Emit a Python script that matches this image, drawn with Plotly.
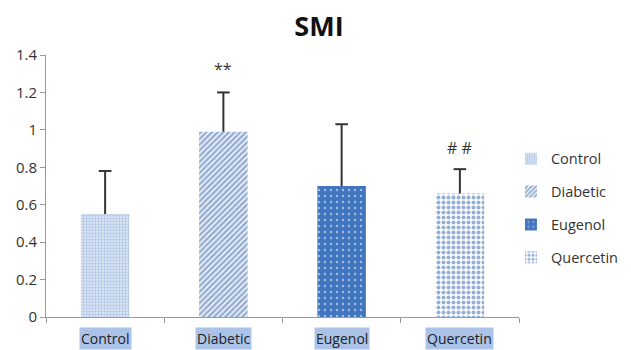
import plotly.graph_objects as go

categories = ["Control", "Diabetic", "Eugenol", "Quercetin"]
means = [0.55, 0.99, 0.70, 0.66]
errors_up = [0.23, 0.21, 0.33, 0.13]
sig_labels = ["", "**", "", "# #"]
sig_heights = [0, 1.325, 0, 0.905]
y_ticks = [0, 0.2, 0.4, 0.6, 0.8, 1.0, 1.2, 1.4]

patterns = [
    dict(shape=".", fgcolor="#7d9fd3", bgcolor="#dde7f5", size=3, solidity=0.45),
    dict(shape="/", fgcolor="#2a5ea8", bgcolor="#ffffff", size=4, solidity=0.65),
    dict(shape=".", fgcolor="#ffffff", bgcolor="#4176bf", size=6, solidity=0.12),
    dict(shape=".", fgcolor="#2a5fae", bgcolor="#ffffff", size=5, solidity=0.5),
]

FONT = "Open Sans"
fig = go.Figure()
for i, cat in enumerate(categories):
    fig.add_trace(go.Bar(
        x=[cat], y=[means[i]], name=cat, legendgroup=cat,
        width=0.41,
        marker=dict(color=patterns[i]["bgcolor"], pattern=patterns[i], line=dict(width=0)),
        error_y=dict(type="data", symmetric=False, array=[errors_up[i]], arrayminus=[0],
                     color="#333333", thickness=2, width=0),
    ))

# error-bar caps
fig.add_trace(go.Scatter(
    x=categories, y=[m + e for m, e in zip(means, errors_up)], mode="markers",
    marker=dict(symbol="line-ew", size=9, line=dict(width=2, color="#333333")),
    showlegend=False, hoverinfo="skip",
))

for i, cat in enumerate(categories):
    fig.add_annotation(x=cat, y=0, xref="x", yref="y", yshift=-21, text=cat,
                       showarrow=False, bgcolor="#abc3e9", borderpad=1,
                       font=dict(family=FONT, size=14, color="#222222"))
    if sig_labels[i]:
        fig.add_annotation(x=cat, y=sig_heights[i], xref="x", yref="y", text=sig_labels[i],
                           showarrow=False, font=dict(family=FONT, size=16, color="#333333"))

fig.update_layout(
    width=623, height=342,
    margin=dict(l=38, r=112, t=47, b=33, autoexpand=False),
    paper_bgcolor="white", plot_bgcolor="white",
    barmode="overlay",
    title=dict(text="<b>SMI</b>", x=311 / 623, xref="container", xanchor="center",
               y=1 - 18.5 / 342, yref="container", yanchor="middle",
               font=dict(family=FONT, size=27, color="#111111")),
    showlegend=True,
    legend=dict(x=0.983, xanchor="left", y=0.665, yanchor="top",
                font=dict(family=FONT, size=14.5, color="#333333"),
                tracegroupgap=11, itemwidth=30, bgcolor="rgba(0,0,0,0)"),
    xaxis=dict(range=[-0.5, 3.5], showticklabels=False, ticks="outside", tickson="boundaries",
               ticklen=5, tickcolor="#999999", showline=True, linecolor="#999999", linewidth=1,
               showgrid=False, zeroline=False),
    yaxis=dict(range=[0, 1.4], tickvals=y_ticks, ticks="outside", ticklen=5,
               tickcolor="#999999", showline=True, linecolor="#999999", linewidth=1,
               showgrid=False, zeroline=False,
               tickfont=dict(family=FONT, size=15, color="#333333")),
)

fig.write_html("out.html")
